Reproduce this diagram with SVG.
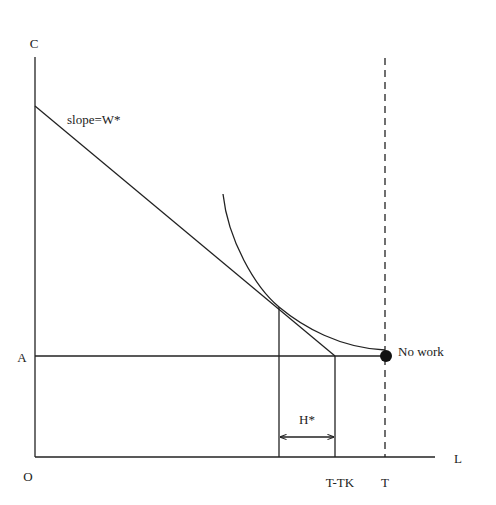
<svg xmlns="http://www.w3.org/2000/svg" width="496" height="505" viewBox="0 0 496 505">
<style>
.ln{stroke:#222;stroke-width:1.3;fill:none}
.t{font-family:"Liberation Serif",serif;font-size:13px;fill:#222}
</style>
<defs>
<marker id="ah" viewBox="0 0 8 8" refX="7.5" refY="4" markerWidth="7" markerHeight="7" orient="auto-start-reverse" markerUnits="userSpaceOnUse">
<path d="M0,1 L8,4 L0,7" fill="none" stroke="#222" stroke-width="1.2"/>
</marker>
</defs>
<rect width="496" height="505" fill="#fff"/>
<g id="axes">
<line class="ln" x1="35" y1="57" x2="35" y2="457"/>
<line class="ln" x1="35" y1="457" x2="435" y2="457"/>
</g>
<g id="connectors">
<line class="ln" x1="35" y1="106" x2="335" y2="356"/>
<line class="ln" x1="35" y1="356" x2="386" y2="356"/>
<line class="ln" x1="385" y1="58" x2="385" y2="457" stroke-dasharray="7,5"/>
<path class="ln" d="M223,194 C228,240 255,287 279,307 C303,327 340,348 385,350"/>
<line class="ln" x1="279" y1="307" x2="279" y2="457"/>
<line class="ln" x1="335" y1="356" x2="335" y2="457"/>
<line class="ln" x1="280" y1="437" x2="334" y2="437" marker-start="url(#ah)" marker-end="url(#ah)"/>
</g>
<g id="nowork">
<circle cx="386" cy="356" r="6" fill="#111"/>
<text class="t" x="398" y="356">No work</text>
</g>
<g id="labels">
<text class="t" x="34" y="48" text-anchor="middle">C</text>
<text class="t" x="67" y="124">slope=W*</text>
<text class="t" x="22" y="362" text-anchor="middle">A</text>
<text class="t" x="28" y="481" text-anchor="middle">O</text>
<text class="t" x="458" y="463" text-anchor="middle">L</text>
<text class="t" x="307" y="424" text-anchor="middle">H*</text>
<text class="t" x="340" y="487" text-anchor="middle">T-TK</text>
<text class="t" x="385" y="487" text-anchor="middle">T</text>
</g>
</svg>
